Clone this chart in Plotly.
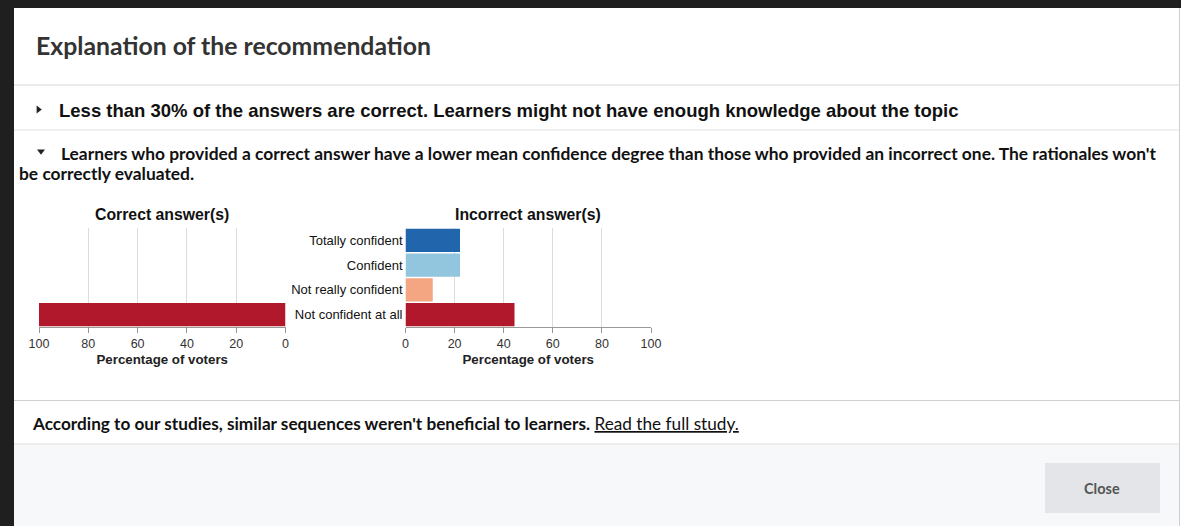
import plotly.graph_objects as go

W, H = 1181, 526

# ---- data ----
levels = ["Totally confident", "Confident", "Not really confident", "Not confident at all"]
correct_pct = [0, 0, 0, 100]
incorrect_pct = [22.2, 22.2, 11.1, 44.4]
level_colors = ["#2166ac", "#92c5de", "#f4a582", "#b2182b"]
tick_vals = [0, 20, 40, 60, 80, 100]

title_text = "Explanation of the recommendation"
row1_text = "Less than 30% of the answers are correct. Learners might not have enough knowledge about the topic"
row2_line1 = ("Learners who provided a correct answer have a lower mean confidence degree than those "
              "who provided an incorrect one. The rationales won't")
row2_line2 = "be correctly evaluated."
footer_bold = "According to our studies, similar sequences weren't beneficial to learners."
footer_link = "Read the full study."
left_title = "Correct answer(s)"
right_title = "Incorrect answer(s)"
axis_title = "Percentage of voters"


def px(x):
    return x / W


def py(y):
    return 1 - y / H


fig = go.Figure()
fig.add_trace(go.Bar(x=correct_pct, y=levels, orientation="h", marker=dict(color=level_colors, line=dict(width=0)),
                     xaxis="x", yaxis="y", showlegend=False, hoverinfo="skip"))
fig.add_trace(go.Bar(x=incorrect_pct, y=levels, orientation="h", marker=dict(color=level_colors, line=dict(width=0)),
                     xaxis="x2", yaxis="y2", showlegend=False, hoverinfo="skip"))

ydom = [py(327), py(228)]
xcommon = dict(showgrid=True, gridcolor="#dcdcdc", gridwidth=1, zeroline=False, showline=True,
               linecolor="#999", linewidth=1, ticks="outside", ticklen=5, tickcolor="#999",
               tickvals=tick_vals, tickfont=dict(family="Arial, Liberation Sans", size=12.5, color="#333"),
               title=dict(text="<b>" + axis_title + "</b>", standoff=4,
                          font=dict(family="Arial, Liberation Sans", size=13.3, color="#222")),
               fixedrange=True, automargin=False)
ycommon = dict(domain=ydom, categoryorder="array", categoryarray=levels, autorange="reversed",
               showgrid=False, zeroline=False, showline=False, ticks="", fixedrange=True, automargin=False)

fig.update_layout(
    width=W, height=H, margin=dict(l=0, r=0, t=0, b=0, pad=0, autoexpand=False),
    paper_bgcolor="#1f1f1f", plot_bgcolor="white",
    bargap=0.06,
    xaxis=dict(domain=[px(39), px(285.5)], range=[100, 0], anchor="y", **xcommon),
    xaxis2=dict(domain=[px(405.5), px(651)], range=[0, 100], anchor="y2", **xcommon),
    yaxis=dict(anchor="x", showticklabels=False, **ycommon),
    yaxis2=dict(anchor="x2", showticklabels=True, ticklabelstandoff=2,
                tickfont=dict(family="Arial, Liberation Sans", size=13, color="#111"), **ycommon),
)

shapes = []
# modal body
shapes.append(dict(type="rect", xref="paper", yref="paper", x0=px(14), x1=px(1181), y0=py(526), y1=py(8),
                   fillcolor="white", line=dict(width=0), layer="below"))
# footer background
shapes.append(dict(type="rect", xref="paper", yref="paper", x0=px(14), x1=px(1179), y0=py(526), y1=py(444.5),
                   fillcolor="#f7f8fa", line=dict(width=0), layer="below"))
# right border
shapes.append(dict(type="line", xref="paper", yref="paper", x0=px(1179.5), x1=px(1179.5), y0=py(526), y1=py(8),
                   line=dict(color="#cfcfcf", width=1), layer="below"))
# separators
for yy, col in [(85, "#d8d8d8"), (130, "#e2e2e2"), (400.5, "#cfcfcf"), (444, "#dedede")]:
    shapes.append(dict(type="line", xref="paper", yref="paper", x0=px(14), x1=px(1179), y0=py(yy), y1=py(yy),
                       line=dict(color=col, width=1.2), layer="below"))
# close button
shapes.append(dict(type="rect", xref="paper", yref="paper", x0=px(1045), x1=px(1160), y0=py(513), y1=py(463),
                   fillcolor="#e3e5e8", line=dict(width=0), layer="below"))


def tri_right(cx, cy, s=4):
    return f"M {px(cx - s*0.6)} {py(cy - s)} L {px(cx + s*0.7)} {py(cy)} L {px(cx - s*0.6)} {py(cy + s)} Z"


def tri_down(cx, cy, s=4):
    return f"M {px(cx - s)} {py(cy - s*0.6)} L {px(cx + s)} {py(cy - s*0.6)} L {px(cx)} {py(cy + s*0.7)} Z"


shapes.append(dict(type="path", xref="paper", yref="paper", path=tri_right(39, 109.5, 4),
                   fillcolor="#222", line=dict(width=0)))
shapes.append(dict(type="path", xref="paper", yref="paper", path=tri_down(41, 152, 4),
                   fillcolor="#222", line=dict(width=0)))
fig.update_layout(shapes=shapes)

ann = []


def text(x, y, t, size, family, color="#111", weight="normal", xanchor="left"):
    ann.append(dict(x=px(x), y=py(y), xref="paper", yref="paper", text=t, showarrow=False,
                    xanchor=xanchor, yanchor="middle", borderpad=0,
                    font=dict(size=size, family=family, color=color, weight=weight)))


text(35, 46, title_text, 24.8, "Lato", "#333", "bold")
text(58, 110, row1_text, 18.5, "Arial, Liberation Sans", "#111", "bold")
text(60, 154, row2_line1, 17.4, "Lato", "#111", "bold")
text(18, 173, row2_line2, 17.4, "Lato", "#111", "bold")
text(162, 214, left_title, 15.8, "Arial, Liberation Sans", "#111", "bold", "center")
text(528, 214, right_title, 15.8, "Arial, Liberation Sans", "#111", "bold", "center")
text(31, 423, "<b>" + footer_bold + "</b> <u>" + footer_link + "</u>", 17.2, "Lato", "#111")
text(1102, 488, "Close", 14.5, "Lato", "#555", "bold", "center")
fig.update_layout(annotations=ann)

post = ("document.documentElement.style.margin='0px';"
        "document.body.style.margin='0px';document.body.style.overflow='hidden';"
        "var g=document.getElementById('{plot_id}');"
        "g.style.position='fixed';g.style.left='0px';g.style.top='0px';")
fig.write_html("out.html", config={"displayModeBar": False, "responsive": False}, post_script=post)
